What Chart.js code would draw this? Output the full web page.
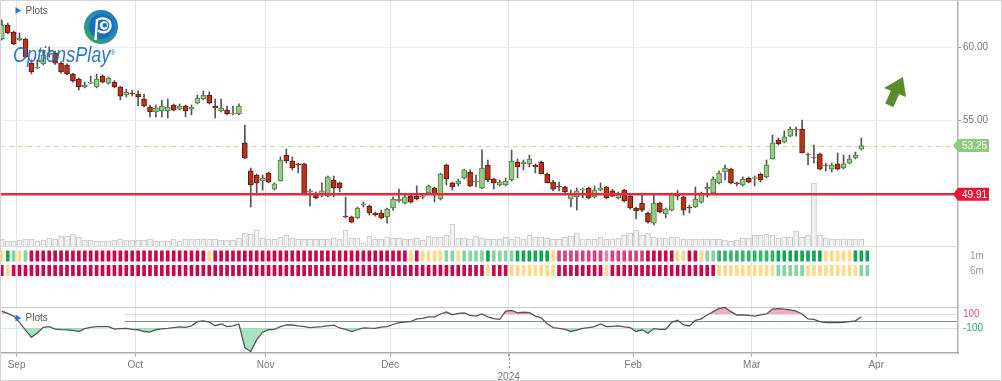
<!DOCTYPE html>
<html><head><meta charset="utf-8">
<script src="https://cdn.jsdelivr.net/npm/chart.js@4.4.1/dist/chart.umd.min.js"></script>
<style>
html,body{margin:0;padding:0;background:#fff;}
#wrap{position:relative;width:1002px;height:381px;overflow:hidden;}
#c{position:absolute;left:0;top:0;}
#frame{position:absolute;left:0;top:0;width:1000px;height:379px;border:1px solid #d4d4d4;pointer-events:none;}
#brand{position:absolute;left:13px;top:44px;font:italic 22px "Liberation Sans",Arial,sans-serif;line-height:22px;color:#2370c4;transform:scaleX(0.82);transform-origin:left top;white-space:nowrap;opacity:0.95;}
#brand span{font-size:8px;vertical-align:top;position:relative;top:-2px;}
#logo{position:absolute;left:83px;top:9px;}
</style></head><body>
<div id="wrap">
<canvas id="c" width="1002" height="381"></canvas>
<svg id="logo" width="36" height="36" viewBox="0 0 36 36">
<defs><linearGradient id="lg" x1="0" y1="1" x2="1" y2="0"><stop offset="0" stop-color="#3aa64a"/><stop offset="0.5" stop-color="#2a8fa8"/><stop offset="1" stop-color="#1f6fc0"/></linearGradient></defs>
<circle cx="18" cy="18" r="17" fill="url(#lg)"/>
<circle cx="18.5" cy="17.5" r="12.5" fill="#1a6cc0"/>
<path d="M12.5 31 L14 11 C20 7.5 28 10 27.5 17 C27 23 20 25 15 21.5" stroke="#fff" stroke-width="2.4" fill="none"/>
<circle cx="21" cy="16.5" r="4.2" fill="#fff"/>
<circle cx="21.8" cy="16.2" r="2.2" fill="#1a6cc0"/>
</svg>
<div id="brand">OptionsPlay<span>®</span></div>
<div id="frame"></div>
</div>
<script>
// ---- data (index = trading day, 0 = 29 Aug 2023 ... 145 = 27 Mar 2024) ----
const open = [60.55,61.51,61.03,60.48,60.55,58.90,58.56,58.84,59.50,59.59,
58.90,58.77,58.15,57.81,57.26,57.53,57.26,58.01,57.53,57.60,
57.26,56.71,56.85,56.78,56.44,55.89,55.55,55.62,55.62,56.03,
55.75,55.96,55.75,56.16,56.44,56.71,55.96,55.62,55.68,55.41,
55.41,53.43,51.51,51.23,50.82,51.37,50.27,50.82,52.60,52.19,
51.99,51.99,50.07,50.00,49.86,49.79,50.89,50.69,48.42,48.36,
48.29,49.18,49.11,48.63,48.63,48.36,48.97,49.45,49.31,49.79,
49.79,49.73,50.00,50.34,49.59,51.92,50.69,50.62,51.03,51.44,
50.75,50.34,51.92,50.96,50.55,50.55,50.89,52.12,51.99,51.99,
51.92,52.12,51.30,50.75,50.48,50.41,49.59,49.73,50.20,50.34,
49.73,50.20,50.41,50.14,49.66,50.20,49.79,48.97,49.31,48.63,
47.94,49.31,48.56,48.83,49.93,49.73,49.04,49.04,49.38,50.27,
50.00,50.69,51.44,51.64,50.69,50.55,51.03,50.99,51.30,51.10,
52.33,53.63,53.49,53.90,54.38,54.38,52.63,52.42,52.67,51.88,
51.64,51.99,51.71,52.05,52.40,53.01];
const high = [61.85,61.64,61.10,60.96,60.62,59.11,59.11,59.79,60.00,59.70,
59.00,58.85,58.20,57.88,57.60,58.01,58.15,58.10,57.95,57.70,
57.30,57.12,57.05,56.99,56.78,56.03,56.03,56.37,56.44,56.10,
56.10,56.03,56.03,56.71,56.99,56.92,56.44,56.44,55.96,55.96,
56.10,54.66,51.71,51.30,51.23,51.44,50.69,52.47,53.01,52.47,
52.05,52.05,50.27,50.07,50.69,51.16,51.16,50.75,49.73,48.42,
49.04,49.38,49.18,48.70,48.83,48.97,49.73,50.27,49.86,49.93,
50.48,49.93,50.55,50.41,51.37,51.99,50.75,50.96,51.64,51.58,
51.23,52.95,52.26,51.03,50.89,51.03,52.95,52.33,52.26,52.60,
51.99,52.19,51.37,50.89,50.75,50.48,50.20,50.34,50.34,50.41,
50.48,50.69,50.45,50.27,50.07,50.27,49.86,49.04,50.00,48.70,
49.93,49.38,48.97,50.00,50.20,49.79,49.18,50.41,50.07,50.69,
51.10,51.51,51.92,51.71,50.75,51.10,51.10,51.16,51.37,52.26,
53.97,53.77,54.25,54.52,54.52,55.00,52.74,53.29,52.74,52.05,
52.05,52.74,52.60,52.60,52.81,53.77];
const low = [60.48,60.90,60.15,60.42,59.25,58.15,58.50,58.77,59.30,58.80,
58.20,58.10,57.60,57.05,57.20,57.50,57.20,57.55,57.45,57.20,
56.37,56.58,56.64,55.96,55.89,55.21,55.21,55.21,55.14,55.62,
55.68,55.21,55.35,56.10,56.37,56.10,55.14,55.55,55.35,55.35,
55.35,52.35,49.04,49.86,50.20,50.69,50.20,50.82,52.05,51.58,
51.37,49.86,49.11,49.60,49.73,49.73,49.73,50.07,48.29,47.95,
48.22,49.04,48.49,48.42,48.22,47.94,48.83,49.38,49.25,49.31,
49.52,49.60,49.93,49.38,49.52,50.55,50.20,50.48,50.96,50.41,
50.41,50.30,50.75,50.27,50.48,50.48,50.82,51.03,51.58,51.78,
51.37,51.30,50.69,50.14,50.14,50.00,49.04,48.83,49.66,49.59,
49.66,50.14,49.60,49.73,49.59,49.38,48.90,48.22,48.70,47.94,
47.81,48.63,48.29,48.77,49.52,48.49,48.63,49.00,49.31,49.73,
49.93,50.62,50.89,50.62,50.48,50.48,50.69,50.48,50.75,51.03,
52.33,53.29,53.43,53.84,53.90,52.74,51.92,52.05,51.58,51.51,
51.44,51.58,51.64,52.00,52.33,52.95];
const close = [61.51,60.96,60.21,60.62,59.32,58.29,58.63,59.45,59.60,58.90,
58.29,58.15,57.67,57.26,57.40,57.60,57.81,57.60,57.88,57.26,
56.64,56.92,56.78,56.58,55.96,55.55,55.82,55.96,55.89,55.68,
55.96,55.62,55.89,56.51,56.71,56.16,55.82,55.82,55.41,55.48,
55.96,52.40,50.55,50.69,51.03,50.75,50.62,52.26,52.19,51.71,
51.92,49.86,50.14,49.66,50.14,51.10,50.34,50.34,48.36,48.01,
48.97,49.25,48.63,48.49,48.29,48.90,49.59,49.59,49.73,49.38,
49.59,49.79,50.48,49.93,51.30,50.96,50.41,50.82,51.58,50.48,
50.82,51.71,50.89,50.69,50.75,50.82,52.19,51.78,52.12,52.33,
51.78,51.30,50.69,50.27,50.41,50.07,50.00,50.14,50.27,49.66,
50.20,50.34,49.66,49.79,50.00,49.45,48.97,48.77,48.83,48.01,
49.31,48.70,48.90,49.93,49.79,48.83,48.97,49.59,50.00,50.41,
50.96,51.37,51.71,50.69,50.62,50.96,50.75,51.05,50.89,51.92,
53.43,53.36,53.84,54.38,54.35,52.74,52.60,52.40,51.64,51.85,
51.92,51.64,51.99,52.33,52.60,53.25];
const volumeM = [1.75,1.25,1.25,1.5,1.75,1.75,1.25,1.5,2,1.75,
2.5,2.5,3,2.25,1.5,1.5,1.25,1.25,1.25,1.5,
1.75,1.5,1.5,1.5,1.5,1.75,1.25,1.25,1.25,1.75,
1.25,1.75,1.75,1.75,1.75,1.75,1.75,1.5,1.5,1.5,
2,3.25,3,4,2,1.75,1.75,2.25,2.75,2,
1.75,1.75,1.75,1.75,1.75,1.75,2,1.75,4,2,
2,0.75,2.5,1.75,1.75,2.25,2,2,1.75,1.75,
2,1.5,2.5,2.25,2.25,2.75,5.5,2,2,1.75,
2.5,2,1.75,1.75,1.75,2.25,1.75,2.25,1.75,2.75,
2.25,2.25,2,1.75,1.75,2.25,2.5,3.25,1.75,1.75,
1.75,2.25,1.75,1.75,2,2.75,3.25,4,2.75,3.25,
2.25,2,2,2.25,2.25,1.75,1.75,1.75,1.75,1.75,
1.75,1.75,1.5,1.25,1.5,2,2,2.75,2.75,3,
2.75,2,2.25,2.25,3.75,2.25,2.75,15.75,2.75,2,
1.75,1.75,1.75,1.75,1.75,1.75];
const oscillator = [140,110,70,-20,-130,-233,-170,-90,-80,-115,
-122,-126,-135,-152,-110,-92,-81,-81,-81,-115,
-110,-105,-120,-125,-150,-160,-125,-112,-105,-95,
-85,-90,-70,-10,2,-15,-67,-43,-81,-70,
-45,-380,-438,-270,-160,-125,-119,-80,-57,-57,
-70,-80,-95,-88,-81,-70,-60,-100,-119,-150,
-125,-97,-102,-105,-88,-81,-50,-24,-15,-10,
30,38,60,60,100,130,90,110,115,80,
70,100,60,35,24,140,150,115,125,120,
71,45,-40,-95,-105,-120,-150,-130,-105,-96,
-80,-43,-80,-76,-71,-85,-95,-150,-125,-175,
-108,-119,-119,-20,10,-57,-71,10,30,86,
133,181,195,133,86,86,80,71,86,100,
170,178,170,160,140,100,30,24,-10,-24,
-24,-22,-19,-8,2,60];
// signal strength: -3 strong bearish ... 0 neutral ... 3 strong bullish (one extra cell for the current day)
const signal1m = [0,3,1,0,1,-3,-3,-3,-3,-3,
-3,-3,-3,-3,-3,-3,-3,-3,-3,-3,
-3,-3,-3,-3,-3,-3,-3,-3,-3,-3,
-3,-3,-3,-3,-3,0,-3,-3,-3,-3,
-3,-3,-3,-3,-3,-3,-3,-3,-3,-3,
-3,-3,-3,-3,-3,-3,-3,-3,-3,-3,
-3,-3,-3,-3,-3,-3,-3,-3,-3,0,
-3,0,0,0,0,1,1,0,1,1,
1,1,3,1,1,1,1,3,3,3,
3,3,3,0,-2,-2,-2,-2,-2,-2,
-2,-2,-1,-2,-2,-2,-2,-2,-2,-3,
-3,-3,-3,-3,0,0,-3,-3,0,1,
1,2,2,2,2,2,2,2,2,2,
2,3,3,3,3,3,3,3,3,0,
0,0,0,0,3,3,3];
const signal6m = [-3,0,-3,-3,-3,-3,-3,-3,-3,-3,
-3,-3,-3,-3,-3,-3,-3,-3,-3,-3,
-3,-3,-3,-3,-3,-3,-3,-3,-3,-3,
-3,-3,-3,-3,-3,-3,-3,-3,-3,-3,
-3,-3,-3,-3,-3,-3,-3,-3,-3,-3,
-3,-3,-3,-3,-3,-3,-3,-3,-3,-3,
-3,-3,-3,-3,-3,-3,-3,-3,-3,-3,
-3,-3,-3,-3,-3,-3,-3,-3,-3,-3,
-3,-3,0,-3,-3,-3,0,0,0,0,
0,0,0,0,-3,-3,-3,-3,-3,-3,
-3,-3,0,-3,-3,-3,-3,-3,-3,-3,
-3,-3,-3,-3,-3,-3,-3,-3,-3,-3,
-3,0,0,0,0,0,0,0,0,0,
0,1,1,1,1,1,0,0,0,0,
0,0,0,0,0,1,1];
const heatRows = ['1m','6m'];
const monthTickPos = [2.5,22.5,44.5,65.5,85.5,106.5,126.5,147.5];
const monthLabels = ['Sep','Oct','Nov','Dec',['','2024'],'Feb','Mar','Apr'];
const priceTicks = [55,60];
const oscGridLevels = [200,100,0,-100];
const oscLabelLevels = [100,-100];
const lastPrice = 53.25;
const supportLevel = 49.91;

// ---- styling ----
const signalColors = {'-3':'#c8084d','-2':'#d5427e','-1':'#e186ae','0':'#fdda8c','1':'#84d4a4','2':'#34b46c','3':'#14a556'};
const idx = open.map((_, i) => i);
const up = idx.map(i => close[i] >= open[i]);
const FONT = '10px "Liberation Sans", Arial, sans-serif';

Chart.defaults.font.family = '"Liberation Sans", Arial, sans-serif';

function tag(ctx, x, y, text, color) {
  ctx.fillStyle = color;
  ctx.beginPath();
  ctx.moveTo(x - 5, y);
  ctx.lineTo(x, y - 6.5);
  ctx.lineTo(x + 31, y - 6.5);
  ctx.lineTo(x + 31, y + 6.5);
  ctx.lineTo(x, y + 6.5);
  ctx.closePath();
  ctx.fill();
  ctx.fillStyle = '#fff';
  ctx.font = FONT;
  ctx.textAlign = 'left';
  ctx.textBaseline = 'middle';
  ctx.fillText(text, x + 4, y + 0.5);
}
function plotsLabel(ctx, x, y) {
  ctx.fillStyle = '#2a6fdb';
  ctx.beginPath();
  ctx.moveTo(x, y - 3.5); ctx.lineTo(x, y + 3.5); ctx.lineTo(x + 5.5, y); ctx.closePath();
  ctx.fill();
  ctx.fillStyle = '#555';
  ctx.font = FONT;
  ctx.textAlign = 'left';
  ctx.textBaseline = 'middle';
  ctx.fillText('Plots', x + 10, y + 0.5);
}

const overlay = {
  id: 'overlay',
  beforeDatasetsDraw(chart) {
    const {ctx, chartArea: a, scales} = chart;
    const yP = scales.yPrice, yO = scales.yOsc;
    ctx.save();
    // volume baseline
    const yb = Math.round(scales.yVol.getPixelForValue(0)) + 0.5;
    ctx.strokeStyle = '#dcdcdc'; ctx.lineWidth = 1;
    ctx.beginPath(); ctx.moveTo(a.left, yb); ctx.lineTo(a.right, yb); ctx.stroke();
    // white label box of the lower panel
    ctx.fillStyle = '#fff';
    const t = yO.getPixelForValue(200) + 1.5, b = yO.getPixelForValue(0) + 1.5;
    ctx.fillRect(a.left + 1, t, 124, b - t);
    // last price dashed line
    const yl = Math.round(yP.getPixelForValue(lastPrice)) + 0.5;
    ctx.strokeStyle = '#bfe0ae';
    ctx.setLineDash([5, 4]);
    ctx.beginPath(); ctx.moveTo(a.left, yl); ctx.lineTo(a.right, yl); ctx.stroke();
    ctx.restore();
  },
  afterDatasetsDraw(chart) {
    const {ctx, chartArea: a, scales} = chart;
    const ys = scales.yPrice.getPixelForValue(supportLevel);
    ctx.save();
    ctx.strokeStyle = '#e8283c';
    ctx.lineWidth = 2.5;
    ctx.beginPath(); ctx.moveTo(a.left, ys); ctx.lineTo(a.right, ys); ctx.stroke();
    ctx.restore();
  },
  afterDraw(chart) {
    const {ctx, chartArea: a, scales} = chart;
    ctx.save();
    tag(ctx, a.right, scales.yPrice.getPixelForValue(lastPrice), lastPrice.toFixed(2), '#8fca80');
    tag(ctx, a.right, scales.yPrice.getPixelForValue(supportLevel), supportLevel.toFixed(2), '#e8173a');
    // right-hand labels of the signal rows and oscillator levels
    ctx.font = FONT; ctx.textBaseline = 'middle'; ctx.textAlign = 'left';
    ctx.fillStyle = '#999';
    heatRows.forEach((r, i) => ctx.fillText(r, a.right + 12, scales.yHeat.getPixelForValue(i) + 0.5));
    oscLabelLevels.forEach(v => {
      ctx.fillStyle = v > 0 ? '#e0558a' : '#2aad68';
      ctx.fillText(String(v), a.right + (v > 0 ? 5 : 5), scales.yOsc.getPixelForValue(v) + 0.5);
    });
    // trend arrow
    ctx.fillStyle = '#5b8a2d';
    ctx.beginPath();
    [[903,77],[906,97],[899.1,94.3],[893.4,107],[885.2,103.4],[890.9,90.7],[884,88]].forEach((p, i) => i ? ctx.lineTo(p[0], p[1]) : ctx.moveTo(p[0], p[1]));
    ctx.closePath(); ctx.fill();
    plotsLabel(ctx, a.left + 15.5, 10.5);
    plotsLabel(ctx, a.left + 15.5, scales.yOsc.getPixelForValue(0) - 3);
    // year marker tick
    const xj = Math.round(scales.x.getPixelForValue(85.5)) + 0.5;
    ctx.strokeStyle = '#999'; ctx.lineWidth = 1; ctx.setLineDash([2, 2]);
    ctx.beginPath(); ctx.moveTo(xj, a.bottom + 1); ctx.lineTo(xj, a.bottom + 15); ctx.stroke();
    ctx.restore();
  }
};

const zeroPad = s => { s.paddingTop = 0; s.paddingBottom = 0; };

new Chart(document.getElementById('c'), {
  type: 'bar',
  data: {
    datasets: [
      { label: 'Volume', yAxisID: 'yVol', order: 10, grouped: false,
        data: idx.map(i => ({x: i, y: volumeM[i]})),
        backgroundColor: '#f2f2f2', borderColor: '#c6c6c6', borderWidth: 1, barThickness: 5 },
      { label: 'Range', yAxisID: 'yPrice', order: 5, grouped: false,
        data: idx.map(i => ({x: i, y: [low[i], high[i]]})),
        backgroundColor: '#555', barThickness: 1 },
      { label: 'Body', yAxisID: 'yPrice', order: 4, grouped: false,
        data: idx.map(i => ({x: i, y: [Math.min(open[i], close[i]), Math.max(open[i], close[i])]})),
        backgroundColor: idx.map(i => up[i] ? '#95cb88' : '#b8331a'),
        borderColor: idx.map(i => up[i] ? '#4d7f42' : '#5e1a0c'),
        borderWidth: 1, borderSkipped: false, barThickness: 5 },
      { label: '1m', yAxisID: 'yHeat', order: 6, grouped: false,
        data: signal1m.map((_, i) => ({x: i, y: [-0.43, 0.43]})),
        backgroundColor: signal1m.map(v => signalColors[v]),
        borderColor: 'rgba(255,255,255,0.35)', borderWidth: 1, borderSkipped: false, barThickness: 5 },
      { label: '6m', yAxisID: 'yHeat', order: 6, grouped: false,
        data: signal6m.map((_, i) => ({x: i, y: [0.57, 1.43]})),
        backgroundColor: signal6m.map(v => signalColors[v]),
        borderColor: 'rgba(255,255,255,0.35)', borderWidth: 1, borderSkipped: false, barThickness: 5 },
      { type: 'line', label: 'Oscillator', yAxisID: 'yOsc', order: 1,
        data: idx.map(i => ({x: i, y: oscillator[i]})),
        borderColor: '#555', borderWidth: 1.3, pointRadius: 0, tension: 0,
        fill: {target: {value: 100}, above: 'rgba(236,150,182,0.8)', below: 'rgba(0,0,0,0)'} },
      { type: 'line', label: 'Oscillator low', yAxisID: 'yOsc', order: 2,
        data: idx.map(i => ({x: i, y: oscillator[i]})),
        borderColor: 'rgba(0,0,0,0)', borderWidth: 0, pointRadius: 0, tension: 0,
        fill: {target: {value: -100}, above: 'rgba(0,0,0,0)', below: 'rgba(140,215,172,0.75)'} }
    ]
  },
  options: {
    responsive: false, animation: false,
    layout: {padding: 0},
    plugins: {legend: {display: false}, tooltip: {enabled: false}},
    scales: {
      x: { type: 'linear', min: -0.3, max: 161.3, offset: false,
        afterBuildTicks: s => { s.ticks = monthTickPos.map(v => ({value: v})); },
        ticks: { autoSkip: false, maxRotation: 0, color: '#777', font: {size: 10}, padding: 2,
          callback: (v, i) => monthLabels[i] },
        grid: { offset: false, color: '#e4e4e4', tickLength: 4, tickColor: '#aaa' },
        border: { color: '#aaa', width: 1.5 },
        afterFit: s => { s.height = 28; s.paddingLeft = 0; s.paddingRight = 0; } },
      yHeat: { type: 'linear', position: 'right', weight: 1, reverse: true, min: -17.655, max: 6.69,
        ticks: { display: false },
        grid: { display: false, drawTicks: false }, border: { display: false },
        afterFit: s => { s.width = 0; zeroPad(s); } },
      yOsc: { type: 'linear', position: 'right', weight: 2, min: -457.1, max: 4585.7,
        afterBuildTicks: s => { s.ticks = oscGridLevels.map(v => ({value: v})); },
        ticks: { display: false },
        grid: { drawTicks: false, color: c => ({'200': '#c9c9c9', '100': '#f6d4df', '0': '#8a8a8a', '-100': '#cfeedd'})[String(c.tick.value)] },
        border: { display: false },
        afterFit: s => { s.width = 0; zeroPad(s); } },
      yPrice: { type: 'linear', position: 'right', weight: 3, min: 39.04, max: 63.22,
        afterBuildTicks: s => { s.ticks = priceTicks.map(v => ({value: v})); },
        ticks: { callback: v => v.toFixed(2), color: '#777', font: {size: 10}, padding: 2 },
        grid: { color: '#eeeeee', tickLength: 3, tickColor: '#999' },
        border: { color: '#b3b3b3', width: 1.5 },
        afterFit: s => { s.width = 44; zeroPad(s); } },
      yVol: { type: 'linear', display: false, position: 'right', weight: 4, min: -26.75, max: 61.5 }
    }
  },
  plugins: [overlay]
});
</script>
</body></html>
